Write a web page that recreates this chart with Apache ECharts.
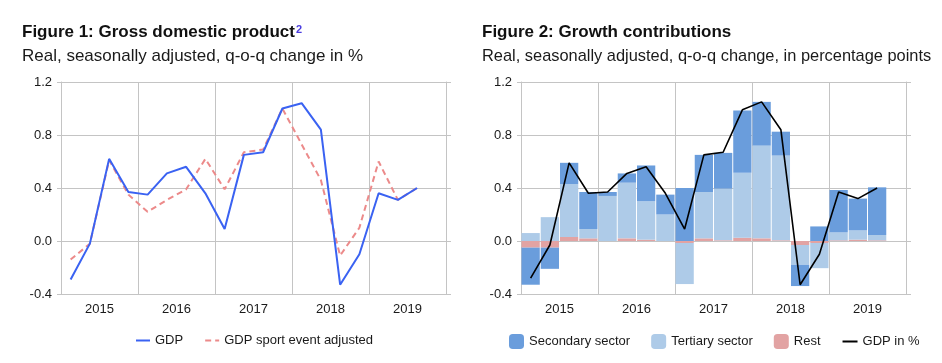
<!DOCTYPE html>
<html><head><meta charset="utf-8">
<script src="https://cdn.jsdelivr.net/npm/echarts@6/dist/echarts.min.js"></script>
<style>html,body{margin:0;padding:0;background:#fff}#c{width:942px;height:363px}</style>
</head><body><div id="c"></div>
<script>
// ---- data ----
const quarters = ['2015 Q1','2015 Q2','2015 Q3','2015 Q4','2016 Q1','2016 Q2','2016 Q3','2016 Q4',
  '2017 Q1','2017 Q2','2017 Q3','2017 Q4','2018 Q1','2018 Q2','2018 Q3','2018 Q4',
  '2019 Q1','2019 Q2','2019 Q3','2019 Q4'];
const years = ['2015','2016','2017','2018','2019'];
const yTicks = [-0.4, 0.0, 0.4, 0.8, 1.2];

// Figure 1
const gdp = [-0.29, -0.02, 0.62, 0.37, 0.35, 0.51, 0.56, 0.36, 0.09, 0.65, 0.67, 1.00, 1.04, 0.84, -0.33, -0.10, 0.36, 0.31, 0.40];
const gdpSportAdjusted = [-0.14, -0.02, 0.61, 0.35, 0.22, 0.31, 0.39, 0.62, 0.39, 0.67, 0.69, 1.00, 0.73, 0.46, -0.11, 0.10, 0.60, 0.31, 0.40];

// Figure 2
const secondary = [-0.28, -0.16, 0.16, 0.28, 0.03, 0.07, 0.27, 0.15, 0.40, 0.28, 0.27, 0.47, 0.33, 0.18, -0.16, 0.11, 0.32, 0.24, 0.36];
const tertiary = [0.06, 0.18, 0.40, 0.07, 0.34, 0.42, 0.29, 0.20, -0.31, 0.35, 0.39, 0.49, 0.70, 0.64, -0.15, -0.19, 0.06, 0.07, 0.04];
const rest = [-0.05, -0.05, 0.03, 0.02, 0.00, 0.02, 0.01, 0.00, -0.015, 0.02, 0.005, 0.025, 0.02, 0.005, -0.03, -0.015, 0.005, 0.01, 0.005];
const gdpPct = [-0.28, -0.03, 0.59, 0.36, 0.37, 0.51, 0.56, 0.36, 0.09, 0.65, 0.67, 0.99, 1.05, 0.84, -0.33, -0.10, 0.37, 0.32, 0.40];

// ---- chart ----
const FONT = '"Liberation Sans", Arial, sans-serif';
const GRIDC = '#c4c4c4';
const TXT = '#1a1a1a';
const yMin = yTicks[0], yMax = yTicks[yTicks.length-1], yInt = yTicks[1]-yTicks[0];

const grids = [
  {left: 61, top: 82, width: 385, height: 212},
  {left: 521, top: 82, width: 385, height: 212}
];

const xAxes = [], yAxes = [];
[0,1].forEach(g => {
  xAxes.push({type:'category', gridIndex:g, data: quarters, boundaryGap:true, show:false});
  xAxes.push({type:'category', gridIndex:g, data: years, boundaryGap:true, position:'bottom',
    axisLine:{show:true, lineStyle:{color:GRIDC, width:1}},
    axisTick:{show:true, length:4, lineStyle:{color:GRIDC}},
    splitLine:{show:true, lineStyle:{color:GRIDC, width:1}},
    axisLabel:{color:TXT, fontFamily:FONT, fontSize:13, margin:9}});
  yAxes.push({type:'value', gridIndex:g, min:yMin, max:yMax, interval:yInt, position:'left',
    axisLine:{show:true, lineStyle:{color:GRIDC, width:1}},
    axisTick:{show:true, length:4, lineStyle:{color:GRIDC}},
    splitLine:{show:true, lineStyle:{color:GRIDC, width:1}},
    axisLabel:{color:TXT, fontFamily:FONT, fontSize:13, margin:9, formatter: v => v.toFixed(1)}});
  yAxes.push({type:'value', gridIndex:g, min:yMin, max:yMax, interval:yInt, position:'right',
    axisLine:{show:true, lineStyle:{color:GRIDC, width:1}},
    axisTick:{show:true, length:5, lineStyle:{color:GRIDC}},
    splitLine:{show:false}, axisLabel:{show:false}});
});

const C_GDP = '#3a62f2', C_ADJ = '#ec8a8a', C_SEC = '#6a9ddc', C_TER = '#aecbe8', C_REST = '#e2a3a3';

const barCommon = {type:'bar', xAxisIndex:2, yAxisIndex:2, stack:'contrib', barCategoryGap:'5%'};
const hideSym = {opacity:0};

const option = {
  animation:false,
  backgroundColor:'#fff',
  textStyle:{fontFamily:FONT},
  title:[
    {text:'{b|Figure 1: Gross domestic product}{s|2}', left:22, top:24, padding:0,
      textStyle:{rich:{b:{fontFamily:FONT, fontWeight:'bold', fontSize:17, color:'#111'},
                       s:{fontFamily:FONT, fontSize:11, color:'#4a3ce0', verticalAlign:'top', padding:[0,0,0,1]}}}},
    {text:'Real, seasonally adjusted, q-o-q change in %', left:22, top:48, padding:0,
      textStyle:{fontFamily:FONT, fontWeight:'normal', fontSize:17, color:'#1a1a1a'}},
    {text:'Figure 2: Growth contributions', left:482, top:24, padding:0,
      textStyle:{fontFamily:FONT, fontWeight:'bold', fontSize:17, color:'#111'}},
    {text:'Real, seasonally adjusted, q-o-q change, in percentage points', left:482, top:48, padding:0,
      textStyle:{fontFamily:FONT, fontWeight:'normal', fontSize:16.4, color:'#1a1a1a'}}
  ],
  legend:[
    {data:[{name:'GDP', itemStyle:hideSym},{name:'GDP sport event adjusted', itemStyle:hideSym}],
      left:135, top:334, padding:0,
      itemWidth:14, itemHeight:15, itemGap:21,
      textStyle:{fontFamily:FONT, fontSize:13, color:TXT}},
    {data:['Secondary sector','Tertiary sector','Rest',{name:'GDP in %', itemStyle:hideSym}], top:334, padding:0,
      itemWidth:15, itemHeight:15, itemGap:21,
      textStyle:{fontFamily:FONT, fontSize:13, color:TXT},
      left: 509}
  ],
  grid: grids,
  xAxis: xAxes,
  yAxis: yAxes,
  series:[
    {name:'GDP', type:'line', xAxisIndex:0, yAxisIndex:0, data:gdp, symbol:'none',
      lineStyle:{color:C_GDP, width:2}, itemStyle:{color:C_GDP}, z:3},
    {name:'GDP sport event adjusted', type:'line', xAxisIndex:0, yAxisIndex:0, data:gdpSportAdjusted, symbol:'none',
      lineStyle:{color:C_ADJ, width:2, type:[6,4]}, itemStyle:{color:C_ADJ}, z:2},
    Object.assign({name:'Rest', data:rest, itemStyle:{color:C_REST}}, barCommon),
    Object.assign({name:'Tertiary sector', data:tertiary, itemStyle:{color:C_TER}}, barCommon),
    Object.assign({name:'Secondary sector', data:secondary, itemStyle:{color:C_SEC}}, barCommon),
    {name:'GDP in %', type:'line', xAxisIndex:2, yAxisIndex:2, data:gdpPct, symbol:'none',
      lineStyle:{color:'#000', width:1.6}, itemStyle:{color:'#000'}, z:5}
  ]
};
const chart = echarts.init(document.getElementById('c'), null, {renderer:'canvas'});
chart.setOption(option);
</script></body></html>
